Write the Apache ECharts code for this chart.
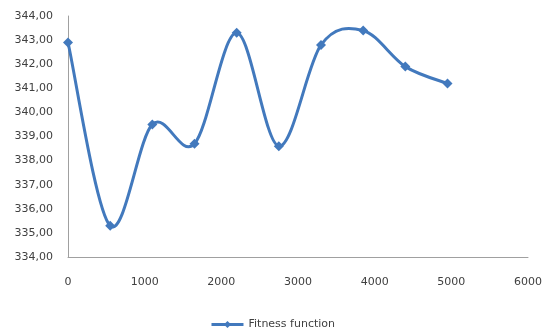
<!DOCTYPE html>
<html>
<head>
<meta charset="utf-8">
<script src="https://cdn.jsdelivr.net/npm/echarts@6/dist/echarts.min.js"></script>
<style>html,body{margin:0;padding:0;background:#fff;}#c{width:545px;height:335px;}</style>
</head>
<body>
<div id="c"></div>
<script>
var xValues = [0, 550, 1100, 1650, 2200, 2750, 3300, 3850, 4400, 4950];
var fitness = [342.9, 335.3, 339.5, 338.7, 343.3, 338.6, 342.8, 343.4, 341.9, 341.2];
var seriesName = 'Fitness function';

var lineColor = '#4279bd';
var data = xValues.map(function (x, i) { return [x, fitness[i]]; });

// Excel-style smoothed segment (Catmull-Rom) between point i and i+1, drawn in pixel space via the axes
function renderSegment(params, api) {
  var i = params.dataIndex;
  if (i >= data.length - 1) return null;
  var p = function (k) {
    k = Math.max(0, Math.min(data.length - 1, k));
    return api.coord(data[k]);
  };
  var p0 = p(i - 1), p1 = p(i), p2 = p(i + 1), p3 = p(i + 2);
  var t = 6;
  var c1 = [p1[0] + (p2[0] - p0[0]) / t, p1[1] + (p2[1] - p0[1]) / t];
  var c2 = [p2[0] - (p3[0] - p1[0]) / t, p2[1] - (p3[1] - p1[1]) / t];
  return {
    type: 'bezierCurve',
    shape: { x1: p1[0], y1: p1[1], x2: p2[0], y2: p2[1], cpx1: c1[0], cpy1: c1[1], cpx2: c2[0], cpy2: c2[1] },
    style: { stroke: lineColor, lineWidth: 3, fill: null }
  };
}

var chart = echarts.init(document.getElementById('c'));
chart.setOption({
  animation: false,
  backgroundColor: '#fff',
  grid: { left: 68, right: 17, top: 16, bottom: 78, containLabel: false },
  xAxis: {
    type: 'value', min: 0, max: 6000, interval: 1000,
    axisLine: { show: true, lineStyle: { color: '#a0a0a0', width: 1 } },
    axisTick: { show: false },
    splitLine: { show: false },
    axisLabel: { color: '#404040', fontFamily: 'DejaVu Sans', fontSize: 11, margin: 20,
      formatter: function (v) { return String(v); } }
  },
  yAxis: {
    type: 'value', min: 334, max: 344, interval: 1,
    axisLine: { show: true, lineStyle: { color: '#a0a0a0', width: 1 } },
    axisTick: { show: false },
    splitLine: { show: false },
    axisLabel: {
      color: '#404040', fontFamily: 'DejaVu Sans', fontSize: 11, margin: 15,
      formatter: function (v) { return v.toFixed(2).replace('.', ','); }
    }
  },
  legend: {
    bottom: 0, left: 'center',
    itemWidth: 32, itemHeight: 9,
    textStyle: { color: '#404040', fontFamily: 'DejaVu Sans', fontSize: 11 },
    data: [{ name: seriesName, lineStyle: { color: lineColor, width: 3, opacity: 1 } }]
  },
  series: [{
    name: 'curve',
    type: 'custom',
    data: data,
    renderItem: renderSegment,
    silent: true,
    z: 1
  }, {
    name: seriesName,
    type: 'line',
    data: data,
    symbol: 'diamond',
    symbolSize: 10,
    lineStyle: { color: lineColor, width: 3, opacity: 0 },
    itemStyle: { color: lineColor },
    z: 3
  }]
});
</script>
</body>
</html>
